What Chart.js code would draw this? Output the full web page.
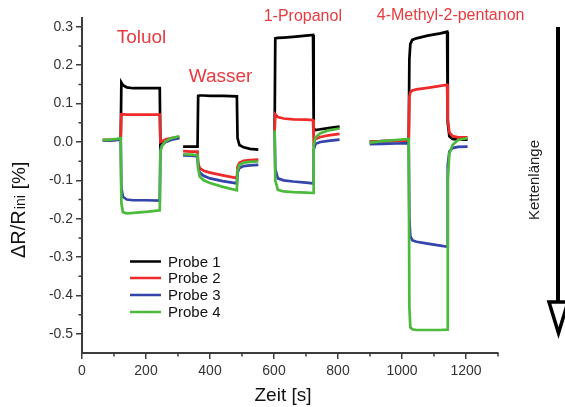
<!DOCTYPE html>
<html>
<head>
<meta charset="utf-8">
<script src="https://cdn.jsdelivr.net/npm/chart.js@4"></script>
<style>
  body { margin: 0; background: #fff; }
  canvas { display: block; }
</style>
</head>
<body>
<canvas id="chart" width="565" height="407"></canvas>
<script>
// Zeit [s], null = Luecke zwischen den Messungen
const zeit = [
  65, 90, 110, 121, 123, 128, 140, 160, 200, 243, 245, 250, 262, 280, 304,
  310,
  316, 340, 361, 363, 368, 380, 400, 440, 484, 486, 492, 505, 525, 551,
  575,
  598, 602, 604, 612, 630, 660, 700, 722, 724, 730, 745, 770, 805,
  850,
  899, 940, 980, 1021, 1023, 1026, 1032, 1045, 1080, 1120, 1141, 1143, 1148, 1158, 1175, 1205
];
const probe1 = [
  0.005, 0.005, 0.006, 0.007, 0.155, 0.148, 0.142, 0.140, 0.140, 0.140, -0.012, -0.006, 0.004, 0.008, 0.012,
  null,
  -0.012, -0.012, -0.012, 0.120, 0.121, 0.121, 0.120, 0.120, 0.119, 0.010, -0.008, -0.014, -0.018, -0.020,
  null,
  0.028, 0.028, 0.270, 0.271, 0.272, 0.274, 0.277, 0.279, 0.035, 0.031, 0.033, 0.036, 0.040,
  null,
  0.000, 0.002, 0.003, 0.004, 0.215, 0.255, 0.266, 0.270, 0.277, 0.283, 0.287, 0.050, 0.015, 0.008, 0.006, 0.006
];
const probe2 = [
  0.005, 0.005, 0.006, 0.007, 0.072, 0.072, 0.071, 0.071, 0.071, 0.071, 0.000, 0.002, 0.007, 0.010, 0.013,
  null,
  -0.024, -0.025, -0.025, -0.055, -0.068, -0.075, -0.080, -0.087, -0.094, -0.065, -0.054, -0.049, -0.047, -0.046,
  null,
  0.028, 0.028, 0.072, 0.065, 0.061, 0.059, 0.058, 0.057, 0.000, 0.008, 0.013, 0.017, 0.021,
  null,
  0.000, 0.002, 0.003, 0.004, 0.118, 0.129, 0.134, 0.137, 0.141, 0.146, 0.149, 0.060, 0.025, 0.015, 0.012, 0.012
];
const probe3 = [
  0.004, 0.004, 0.005, 0.006, -0.120, -0.143, -0.150, -0.152, -0.152, -0.153, -0.020, -0.008, 0.000, 0.006, 0.010,
  null,
  -0.035, -0.036, -0.037, -0.065, -0.080, -0.088, -0.095, -0.102, -0.108, -0.080, -0.068, -0.063, -0.061, -0.060,
  null,
  0.025, 0.025, -0.070, -0.095, -0.100, -0.103, -0.106, -0.108, -0.020, -0.005, 0.000, 0.003, 0.006,
  null,
  -0.006, -0.005, -0.004, -0.003, -0.200, -0.245, -0.256, -0.260, -0.265, -0.270, -0.273, -0.060, -0.025, -0.016, -0.013, -0.012
];
const probe4 = [
  0.005, 0.006, 0.008, 0.010, -0.160, -0.183, -0.186, -0.185, -0.182, -0.178, -0.025, -0.010, 0.002, 0.010, 0.015,
  null,
  -0.032, -0.033, -0.034, -0.070, -0.090, -0.100, -0.107, -0.117, -0.126, -0.075, -0.060, -0.054, -0.052, -0.051,
  null,
  0.027, 0.027, -0.100, -0.125, -0.129, -0.131, -0.132, -0.133, -0.010, 0.012, 0.023, 0.030, 0.035,
  null,
  -0.002, 0.002, 0.005, 0.008, -0.430, -0.483, -0.488, -0.490, -0.490, -0.490, -0.489, -0.100, -0.030, -0.008, 0.005, 0.010
];
const probenNamen = ["Probe 1", "Probe 2", "Probe 3", "Probe 4"];
const loesungsmittel = ["Toluol", "Wasser", "1-Propanol", "4-Methyl-2-pentanon"];
const xTicks = [0, 200, 400, 600, 800, 1000, 1200];
const xMinor = [100, 300, 500, 700, 900, 1100, 1300];
const yTicks = [-0.5, -0.4, -0.3, -0.2, -0.1, 0.0, 0.1, 0.2, 0.3];
const yMinor = [-0.45, -0.35, -0.25, -0.15, -0.05, 0.05, 0.15, 0.25];

const farben = ["#000000", "#ee2a2a", "#3344aa", "#4cbb3c"];
const FONT = "'Liberation Sans', Arial, sans-serif";
const AXIS = "#3c3c3c";

function toXY(werte) {
  return zeit.map((t, i) => ({ x: t, y: werte[i] }));
}

const extras = {
  id: "extras",
  afterDraw(chart) {
    const ctx = chart.ctx;
    const xs = chart.scales.x, ys = chart.scales.y;
    const area = chart.chartArea;
    ctx.save();

    // Nebenstriche
    ctx.strokeStyle = AXIS;
    ctx.lineWidth = 1.5;
    ctx.beginPath();
    xMinor.forEach(v => {
      const px = xs.getPixelForValue(v);
      ctx.moveTo(px, area.bottom); ctx.lineTo(px, area.bottom + 3.5);
    });
    yMinor.forEach(v => {
      const py = ys.getPixelForValue(v);
      ctx.moveTo(area.left - 3.5, py); ctx.lineTo(area.left, py);
    });
    ctx.stroke();

    // Loesungsmittel-Beschriftung
    ctx.fillStyle = "#e83a3f";
    ctx.textAlign = "center";
    ctx.textBaseline = "middle";
    const pos = [[186, 0.271, 19], [433, 0.169, 19], [690, 0.326, 16], [1152, 0.329, 16]];
    loesungsmittel.forEach((txt, i) => {
      ctx.font = pos[i][2] + "px " + FONT;
      ctx.fillText(txt, xs.getPixelForValue(pos[i][0]), ys.getPixelForValue(pos[i][1]));
    });

    // Legende
    const rows = [261.5, 278, 295, 312];
    ctx.textAlign = "left";
    ctx.font = "15px " + FONT;
    probenNamen.forEach((name, i) => {
      ctx.strokeStyle = farben[i];
      ctx.lineWidth = 2.5;
      ctx.beginPath();
      ctx.moveTo(130, rows[i]); ctx.lineTo(161, rows[i]);
      ctx.stroke();
      ctx.fillStyle = "#111";
      ctx.fillText(name, 168, rows[i] + 1);
    });

    // Achsentitel
    ctx.fillStyle = "#111";
    ctx.textAlign = "center";
    ctx.textBaseline = "middle";
    ctx.font = "19px " + FONT;
    ctx.fillText("Zeit [s]", 283, 396);

    ctx.save();
    ctx.translate(25, 258);
    ctx.rotate(-Math.PI / 2);
    ctx.textAlign = "left";
    ctx.textBaseline = "alphabetic";
    ctx.font = "20px " + FONT;
    ctx.fillText("\u0394R/R", 0, 0);
    let off = ctx.measureText("\u0394R/R").width + 1;
    ctx.font = "14px " + FONT;
    ctx.fillText("ini", off, 0);
    off += ctx.measureText("ini").width + 6;
    ctx.font = "19px " + FONT;
    ctx.fillText("[%]", off, 0);
    ctx.restore();

    // Kettenlaenge-Pfeil
    ctx.save();
    ctx.translate(535, 180);
    ctx.rotate(-Math.PI / 2);
    ctx.font = "15px " + FONT;
    ctx.fillStyle = "#222";
    ctx.textAlign = "center";
    ctx.textBaseline = "middle";
    ctx.fillText("Kettenl\u00e4nge", 0, 0);
    ctx.restore();

    ctx.strokeStyle = "#000";
    ctx.lineWidth = 4;
    ctx.beginPath();
    ctx.moveTo(558, 27); ctx.lineTo(558, 301);
    ctx.stroke();
    ctx.lineWidth = 3.5;
    ctx.lineJoin = "miter";
    ctx.beginPath();
    ctx.moveTo(549, 302); ctx.lineTo(568, 302); ctx.lineTo(558.5, 333);
    ctx.closePath();
    ctx.stroke();

    ctx.restore();
  }
};

const chart = new Chart(document.getElementById("chart"), {
  type: "line",
  data: {
    datasets: [probe1, probe2, probe3, probe4].map((werte, i) => ({
      label: probenNamen[i],
      data: toXY(werte),
      borderColor: farben[i],
      backgroundColor: farben[i],
      borderWidth: 2.7,
      pointRadius: 0,
      fill: false,
      tension: 0,
      spanGaps: false,
      order: 3 - i
    }))
  },
  options: {
    responsive: false,
    animation: false,
    layout: { padding: { top: 18, right: 67, bottom: 0, left: 0 } },
    plugins: { legend: { display: false }, tooltip: { enabled: false } },
    scales: {
      x: {
        type: "linear",
        min: 0,
        max: 1300,
        afterBuildTicks: s => { s.ticks = xTicks.map(v => ({ value: v })); },
        afterFit: s => { s.height = 54; },
        border: { display: true, color: AXIS, width: 2 },
        grid: { drawOnChartArea: false, drawTicks: true, tickLength: 6, color: AXIS, lineWidth: 1.5 },
        ticks: { color: "#333", font: { size: 14, family: FONT }, padding: 4, maxRotation: 0, autoSkip: false,
                 callback: v => String(v) }
      },
      y: {
        type: "linear",
        min: -0.55,
        max: 0.323,
        afterBuildTicks: s => { s.ticks = yTicks.map(v => ({ value: v })); },
        afterFit: s => { s.width = 82; },
        border: { display: true, color: AXIS, width: 2 },
        grid: { drawOnChartArea: false, drawTicks: true, tickLength: 6, color: AXIS, lineWidth: 1.5 },
        ticks: { color: "#333", font: { size: 14, family: FONT }, padding: 3, autoSkip: false,
                 callback: v => v.toFixed(1) }
      }
    }
  },
  plugins: [extras]
});
</script>
</body>
</html>
